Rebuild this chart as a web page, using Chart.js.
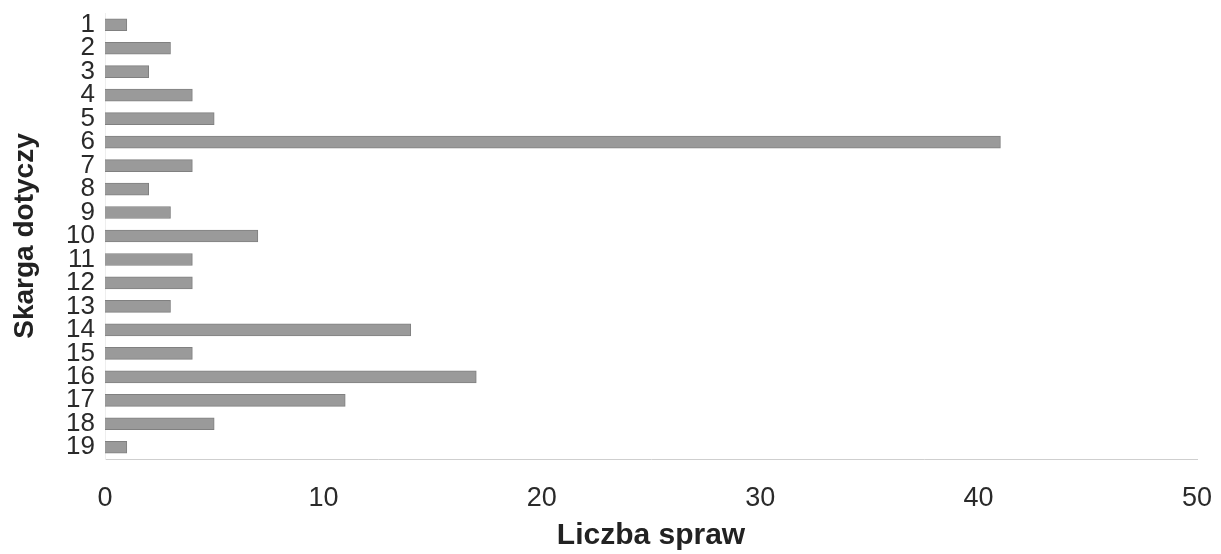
<!DOCTYPE html>
<html>
<head>
<meta charset="utf-8">
<script src="https://cdn.jsdelivr.net/npm/chart.js@4"></script>
<style>
html,body{margin:0;padding:0;background:#fff;}
#wrap{width:1221px;height:554px;position:relative;}
</style>
</head>
<body>
<div id="wrap"><canvas id="c"></canvas></div>
<script>
const categories = ["1","2","3","4","5","6","7","8","9","10","11","12","13","14","15","16","17","18","19"];
const caseCounts = [1,3,2,4,5,41,4,2,3,7,4,4,3,14,4,17,11,5,1];
const xTicks = [0,10,20,30,40,50];
const xTitle = "Liczba spraw";
const yTitle = "Skarga dotyczy";

const FONT = "'Liberation Sans', Arial, sans-serif";

new Chart(document.getElementById('c'), {
  type: 'bar',
  data: {
    labels: categories,
    datasets: [{
      data: caseCounts,
      backgroundColor: '#9a9a9a',
      borderColor: '#808080',
      borderWidth: 1,
      barThickness: 12,
      categoryPercentage: 1
    }]
  },
  options: {
    indexAxis: 'y',
    responsive: true,
    maintainAspectRatio: false,
    animation: false,
    layout: { padding: { top: 13, right: 24, bottom: 0, left: 0 } },
    plugins: { legend: { display: false }, tooltip: { enabled: false } },
    scales: {
      x: {
        type: 'linear',
        min: 0, max: 50,
        afterBuildTicks: s => { s.ticks = xTicks.map(v => ({ value: v })); },
        afterFit: s => { s.height = 95; s.paddingLeft = 0; s.paddingRight = 0; },
        grid: { display: false, drawTicks: false },
        border: { display: true, color: '#cfcfcf', width: 1 },
        ticks: { color: '#2a2a2a', font: { family: FONT, size: 27 }, padding: 23, maxRotation: 0 },
        title: { display: true, text: xTitle, color: '#222', font: { family: FONT, size: 30, weight: 'bold' }, padding: { top: 0, bottom: 0 } }
      },
      y: {
        afterFit: s => { s.width = 105; s.paddingTop = 0; s.paddingBottom = 0; },
        grid: { display: false, drawTicks: false },
        border: { display: true, color: '#eeeeee', width: 1 },
        ticks: { color: '#2a2a2a', font: { family: FONT, size: 26 }, padding: 10, autoSkip: false },
        title: { display: true, text: yTitle, color: '#222', font: { family: FONT, size: 28, weight: 'bold' }, padding: { top: 8, bottom: 4 } }
      }
    }
  }
});
</script>
</body>
</html>
